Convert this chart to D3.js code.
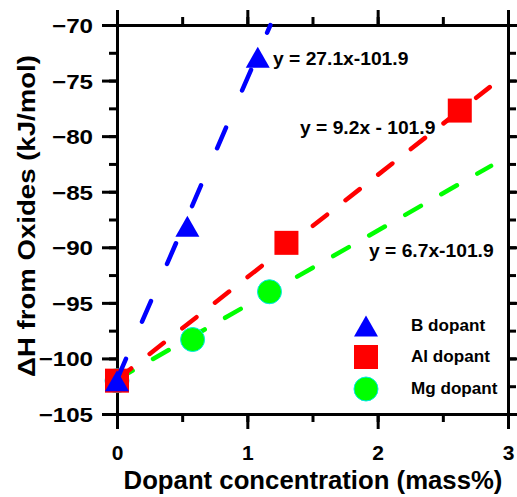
<!DOCTYPE html>
<html>
<head>
<meta charset="utf-8">
<script src="https://cdn.jsdelivr.net/npm/d3@7"></script>
<style>
  html, body { margin: 0; padding: 0; background: #fff; }
  svg { display: block; font-family: "Liberation Sans", Arial, sans-serif; font-weight: bold; }
</style>
</head>
<body>
<svg id="chart" width="517" height="497"></svg>
<script>
// Enthalpy of formation from oxides versus dopant concentration
const xTicks = [0, 1, 2, 3];
const yTicks = [-105, -100, -95, -90, -85, -80, -75, -70];

const bConc = [0, 0.54, 1.08];
const bDH   = [-102.0, -88.1, -72.9];

const alConc = [0, 1.30, 2.63];
const alDH   = [-102.0, -89.6, -77.7];

const mgConc = [0, 0.58, 1.17];
const mgDH   = [-102.0, -98.3, -94.0];

// linear fits: slope, intercept, last x of the drawn fit
const bFit  = [27.1, -101.9, 1.177];
const alFit = [9.2, -101.9, 2.86];
const mgFit = [6.7, -101.9, 2.87];

const fitLabels = ["y = 27.1x-101.9", "y = 9.2x - 101.9", "y = 6.7x-101.9"];
const legendLabels = ["B dopant", "Al dopant", "Mg dopant"];

const svg = d3.select("#chart");
const x = d3.scaleLinear().domain([0, 3]).range([117, 508]);
const y = d3.scaleLinear().domain([-105, -70]).range([414, 25]);

const MAJ = 15, MIN = 8;
const xMinor = d3.range(0, 3.01, 0.5);
const yMinor = d3.range(-105, -69.9, 2.5);

function styleAxis(g) {
  g.selectAll("path.domain").attr("stroke", "#000").attr("stroke-width", 3);
  g.selectAll(".tick line").attr("stroke", "#000").attr("stroke-width", 3);
}

// frame: minor ticks first, then major ticks with labels on left/bottom
function drawAxis(axisFn, scale, minor, major, transform, labels) {
  const gMin = svg.append("g").attr("transform", transform)
    .call(axisFn(scale).tickValues(minor).tickSize(MIN).tickSizeOuter(0).tickFormat(""));
  styleAxis(gMin);
  const gMaj = svg.append("g").attr("transform", transform)
    .call(axisFn(scale).tickValues(major).tickSize(MAJ).tickSizeOuter(0)
      .tickFormat(labels ? d3.format("d") : "").tickPadding(labels ? 8 : 0));
  styleAxis(gMaj);
  return gMaj;
}

const gLeft = drawAxis(d3.axisLeft, y, yMinor, yTicks, "translate(117,0)", true);
const gBottom = drawAxis(d3.axisBottom, x, xMinor, xTicks, "translate(0,414)", true);
drawAxis(d3.axisTop, x, xMinor, xTicks, "translate(0,25)", false);
drawAxis(d3.axisRight, y, yMinor, yTicks, "translate(508,0)", false);

// left tick labels, stretched horizontally about their right edge
gLeft.selectAll(".tick text")
  .attr("font-size", 21).attr("font-weight", "bold").attr("fill", "#000")
  .attr("font-family", "Liberation Sans, Arial, sans-serif")
  .attr("x", 0).attr("dy", "0.36em")
  .attr("transform", "translate(-24,0) scale(1.15,1)");
gBottom.selectAll(".tick text")
  .attr("font-size", 21).attr("font-weight", "bold").attr("fill", "#000")
  .attr("font-family", "Liberation Sans, Arial, sans-serif")
  .attr("y", 46).attr("dy", 0);

// axis titles
svg.append("text")
  .attr("transform", "translate(313,489) scale(1.03,1)")
  .attr("text-anchor", "middle").attr("font-size", 25).attr("fill", "#000")
  .text("Dopant concentration (mass%)");
svg.append("text")
  .attr("transform", "translate(35,216) rotate(-90) scale(1.15,1)")
  .attr("text-anchor", "middle").attr("font-size", 24).attr("fill", "#000")
  .text("ΔH from Oxides (kJ/mol)");

// markers
const TRI_W = 24, TRI_H = 21, SQ = 24, R = 12;
const triPath = `M0,${-TRI_H / 2}L${TRI_W / 2},${TRI_H / 2}L${-TRI_W / 2},${TRI_H / 2}Z`;

function fitLine(fit, color, dash) {
  const pts = [0, fit[2]].map(v => [x(v), y(fit[0] * v + fit[1])]);
  svg.append("path")
    .attr("d", d3.line()(pts))
    .attr("fill", "none").attr("stroke", color).attr("stroke-width", 4.5)
    .attr("stroke-linecap", "round").attr("stroke-dasharray", dash);
}
function circles(xs, ys) {
  svg.append("g").selectAll("circle").data(xs).join("circle")
    .attr("cx", d => x(d)).attr("cy", (d, i) => y(ys[i])).attr("r", R)
    .attr("fill", "#00ff00").attr("stroke", "#00e8e8").attr("stroke-width", 1);
}
function squares(xs, ys) {
  svg.append("g").selectAll("rect").data(xs).join("rect")
    .attr("x", d => x(d) - SQ / 2).attr("y", (d, i) => y(ys[i]) - SQ / 2)
    .attr("width", SQ).attr("height", SQ).attr("fill", "#ff0000");
}
function triangles(xs, ys) {
  svg.append("g").selectAll("path").data(xs).join("path")
    .attr("d", triPath)
    .attr("transform", (d, i) => `translate(${x(d)},${y(ys[i])})`)
    .attr("fill", "#0000ff");
}

fitLine(mgFit, "#00ff00", "18,23.5");
circles(mgConc, mgDH);
fitLine(alFit, "#ff0000", "18,23.5");
squares(alConc, alDH);
fitLine(bFit, "#0000ff", "22.5,40.5");
triangles(bConc, bDH);

// fit equations
const eqPos = [[273, 65], [300, 134], [369, 257]];
fitLabels.forEach((t, i) => {
  svg.append("text")
    .attr("transform", `translate(${eqPos[i][0]},${eqPos[i][1]}) scale(1.07,1)`)
    .attr("font-size", 18).attr("fill", "#000").text(t);
});

// legend
const legRows = [326, 357, 389];
const lg = svg.append("g");
lg.append("path").attr("d", triPath).attr("transform", `translate(366,${legRows[0]})`).attr("fill", "#0000ff");
lg.append("rect").attr("x", 366 - SQ / 2).attr("y", legRows[1] - SQ / 2).attr("width", SQ).attr("height", SQ).attr("fill", "#ff0000");
lg.append("circle").attr("cx", 366).attr("cy", legRows[2]).attr("r", R)
  .attr("fill", "#00ff00").attr("stroke", "#00e8e8").attr("stroke-width", 1);
legendLabels.forEach((t, i) => {
  lg.append("text")
    .attr("transform", `translate(411,${legRows[i] + 5}) scale(1.07,1)`)
    .attr("font-size", 16).attr("fill", "#000").text(t);
});
</script>
</body>
</html>
